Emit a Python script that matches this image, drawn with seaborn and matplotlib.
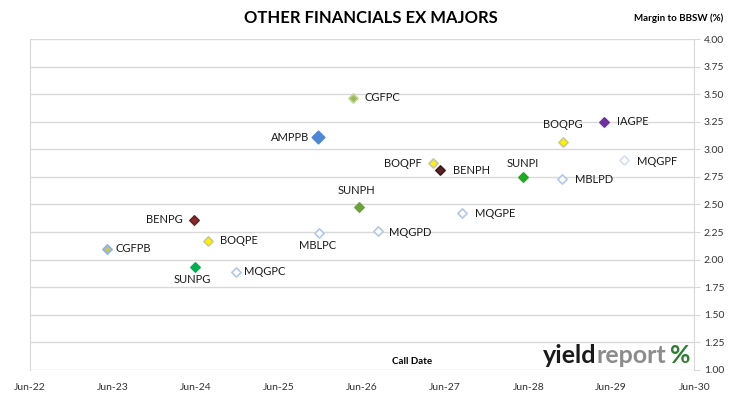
import pandas as pd
import matplotlib
matplotlib.use('Agg')
import matplotlib.pyplot as plt
import matplotlib.dates as mdates
import seaborn as sns

# data: call date and margin to BBSW (%)
codes = ['CGFPB', 'SUNPG', 'BENPG', 'BOQPE', 'MQGPC', 'MBLPC', 'AMPPB', 'CGFPC', 'SUNPH',
         'MQGPD', 'BOQPF', 'BENPH', 'MQGPE', 'SUNPI', 'MBLPD', 'BOQPG', 'IAGPE', 'MQGPF']
call_dates = ['2023-05-06', '2024-05-29', '2024-05-24', '2024-07-25', '2024-11-24', '2025-11-24',
              '2025-11-17', '2026-04-24', '2026-05-20', '2026-08-10', '2027-04-10', '2027-05-10',
              '2027-08-15', '2028-05-07', '2028-10-28', '2028-11-02', '2029-05-01', '2029-07-29']
margins = [2.10, 1.93, 2.36, 2.17, 1.89, 2.24, 3.11, 3.47, 2.48,
           2.26, 2.88, 2.81, 2.42, 2.75, 2.73, 3.07, 3.25, 2.90]

# marker face / edge colours per code
face = {'CGFPB': '#C9C45A', 'CGFPC': '#9BBB59', 'SUNPG': '#00B050', 'SUNPH': '#6AA33A',
        'SUNPI': '#1FAA1F', 'BENPG': '#8B2A2A', 'BENPH': '#5A2323', 'BOQPE': '#FFF200',
        'BOQPF': '#FFF200', 'BOQPG': '#FFF200', 'AMPPB': '#4F86D6', 'IAGPE': '#7030A0',
        'MQGPC': 'white', 'MQGPD': 'white', 'MQGPE': 'white', 'MQGPF': 'white',
        'MBLPC': 'white', 'MBLPD': 'white'}
edge = {'CGFPB': '#8DB4E2', 'CGFPC': '#C3D69B', 'SUNPG': '#00B050', 'SUNPH': '#6AA33A',
        'SUNPI': '#1FAA1F', 'BENPG': '#6B1F1F', 'BENPH': '#3F1818', 'BOQPE': '#C9C99A',
        'BOQPF': '#C9C99A', 'BOQPG': '#C9C99A', 'AMPPB': '#4F86D6', 'IAGPE': '#7030A0',
        'MQGPC': '#B4C7E7', 'MQGPD': '#B4C7E7', 'MQGPE': '#B4C7E7', 'MQGPF': '#D6DFEE',
        'MBLPC': '#B4C7E7', 'MBLPD': '#B4C7E7'}

# label placement (offset in points, alignment)
lab_pos = {'CGFPB': (6, 0, 'left'), 'CGFPC': (8, 0, 'left'), 'AMPPB': (-6, 0, 'right'),
           'BENPG': (-8, 0, 'right'), 'BOQPE': (8, 0, 'left'), 'SUNPG': (-2, -9, 'center'),
           'MQGPC': (6, 0, 'left'), 'MBLPC': (-1, -9, 'center'), 'SUNPH': (-2, 12, 'center'),
           'MQGPD': (8, -1, 'left'), 'BOQPF': (-8, -1, 'right'), 'BENPH': (9, 0, 'left'),
           'MQGPE': (9, 0, 'left'), 'SUNPI': (0, 10, 'center'), 'MBLPD': (9, 0, 'left'),
           'BOQPG': (0, 12, 'center'), 'IAGPE': (9, 0, 'left'), 'MQGPF': (9, -1, 'left')}

df = pd.DataFrame({'code': codes, 'date': pd.to_datetime(call_dates), 'margin': margins})

sns.set_style('white')
plt.rcParams['font.family'] = ['Lato', 'DejaVu Sans']

fig = plt.figure(figsize=(7.3, 3.99), dpi=100)
ax = fig.add_axes([0.041, 0.073, 0.910, 0.829])

for c in codes:
    sub = df[df['code'] == c]
    size = 40 if c == 'AMPPB' else 22
    sns.scatterplot(data=sub, x='date', y='margin', ax=ax, marker='D', s=size,
                    color=face[c], edgecolor=edge[c], linewidth=1.2, legend=False, zorder=3)
    dx, dy, ha = lab_pos[c]
    ax.annotate(c, (sub['date'].iloc[0], sub['margin'].iloc[0]), xytext=(dx, dy),
                textcoords='offset points', ha=ha, va='center', fontsize=8, color='#1a1a1a')

ax.set_xlim(pd.Timestamp('2022-06-01'), pd.Timestamp('2030-06-01'))
ax.set_ylim(1.0, 4.0)
ax.set_yticks([1 + 0.25 * i for i in range(13)])
ax.yaxis.set_major_formatter(matplotlib.ticker.FormatStrFormatter('%.2f'))
ax.xaxis.set_major_locator(mdates.YearLocator(1, month=6, day=1))
ax.xaxis.set_major_formatter(mdates.DateFormatter('%b-%y'))

ax.yaxis.tick_right()
ax.grid(axis='y', color='#D9D9D9', linewidth=1)
ax.grid(axis='x', visible=False)
for s in ['top', 'bottom']:
    ax.spines[s].set_visible(False)
for s in ['left', 'right']:
    ax.spines[s].set_color('#D9D9D9')
ax.tick_params(axis='y', right=True, length=4, color='#D9D9D9', labelsize=7.5, pad=3, labelcolor='#333333')
ax.tick_params(axis='x', bottom=False, labelsize=7.5, pad=6, labelcolor='#333333')
ax.set_xlabel('')
ax.set_ylabel('')

fig.text(0.508, 0.955, 'OTHER FINANCIALS EX MAJORS', ha='center', va='center',
         fontsize=12, fontweight='bold', color='black')
fig.text(0.929, 0.955, 'Margin to BBSW (%)', ha='center', va='center',
         fontsize=7, fontweight='bold', color='black')
ax.text(0.575, 0.024, 'Call Date', transform=ax.transAxes, ha='center', va='center',
        fontsize=7, fontweight='bold', color='black')

# logo-style text in the corner, pieces laid out one after another
fig.canvas.draw()
rend = fig.canvas.get_renderer()
x0 = 543 / 730
for piece, col, gap in [('yield', '#1a1a1a', 0), ('report', '#8c8c8c', 0), ('%', '#2e7d32', 4)]:
    x0 += gap / 730
    t = fig.text(x0, 0.11, piece, ha='left', va='center', fontsize=18,
                 fontweight='bold', color=col)
    bb = t.get_window_extent(rend)
    x0 += bb.width / 730

fig.savefig('out.png', dpi=100)
